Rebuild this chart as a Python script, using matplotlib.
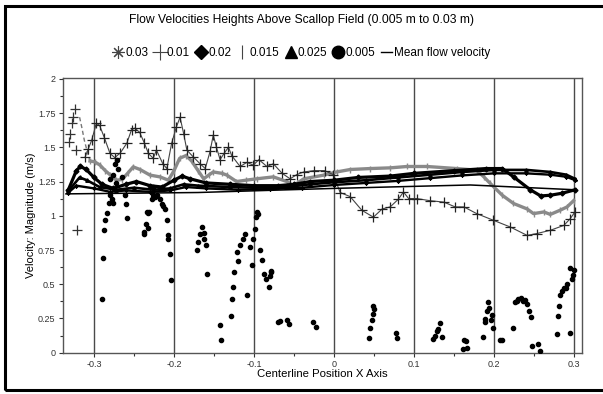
import matplotlib
matplotlib.use("Agg")
import matplotlib.pyplot as plt
from matplotlib.lines import Line2D
from matplotlib.patches import Rectangle
from matplotlib.ticker import MultipleLocator, FuncFormatter

plt.rcParams['font.family'] = ['Liberation Sans', 'DejaVu Sans']
plt.rcParams['axes.unicode_minus'] = False

title = "Flow Velocities Heights Above Scallop Field (0.005 m to 0.03 m)"
xlabel = "Centerline Position X Axis"
ylabel = "Velocity: Magnitude (m/s)"

# 0.01 m height ('+' markers)
x_01 = [-0.311, -0.307, -0.303, -0.297, -0.293, -0.287, -0.28, -0.274, -0.267, -0.259, -0.253, -0.249,
        -0.243, -0.237, -0.232, -0.226, -0.222, -0.214, -0.209, -0.203, -0.197, -0.1925, -0.188, -0.184,
        -0.176, -0.1675, -0.161, -0.155, -0.151, -0.147, -0.1425, -0.137, -0.132, -0.128, -0.1175, -0.109,
        -0.101, -0.094, -0.084, -0.076, -0.065, -0.055, -0.047, -0.038, -0.025, -0.012, -0.001, 0.0075,
        0.02, 0.0346, 0.049, 0.06, 0.07, 0.08, 0.0866, 0.093, 0.103, 0.12, 0.137, 0.151, 0.162, 0.178,
        0.199, 0.22, 0.241, 0.253, 0.27, 0.287, 0.295, 0.301]
y_01 = [1.43, 1.49, 1.55, 1.675, 1.66, 1.57, 1.455, 1.425, 1.46, 1.53, 1.63, 1.64,
        1.61, 1.53, 1.455, 1.42, 1.48, 1.38, 1.345, 1.53, 1.65, 1.72, 1.60, 1.48,
        1.43, 1.38, 1.345, 1.47, 1.59, 1.50, 1.41, 1.46, 1.50, 1.44, 1.36, 1.39,
        1.37, 1.41, 1.36, 1.38, 1.31, 1.27, 1.30, 1.32, 1.33, 1.33, 1.30, 1.17,
        1.14, 1.04, 0.99, 1.05, 1.065, 1.12, 1.174, 1.126, 1.126, 1.11, 1.10, 1.065, 1.065, 1.016,
        0.967, 0.918, 0.857, 0.87, 0.894, 0.93, 0.98, 1.03]
x_01_sparse = [-0.331, -0.33, -0.328, -0.326, -0.324, -0.3225, -0.321]
y_01_sparse = [1.54, 1.60, 1.68, 1.72, 1.78, 1.48, 0.894]

# 0.015 m height ('|' markers, gray)
x_015_dash = [-0.318, -0.315, -0.312, -0.308, -0.305]
y_015_dash = [1.72, 1.64, 1.55, 1.46, 1.40]
x_015 = [-0.305, -0.299, -0.2925, -0.286, -0.28, -0.272, -0.265, -0.258, -0.251, -0.2425, -0.23,
         -0.2175, -0.207, -0.2, -0.193, -0.185, -0.178, -0.17, -0.163, -0.156, -0.151, -0.14, -0.134,
         -0.122, -0.11, -0.097, -0.076, -0.059, -0.051, -0.038, -0.013, 0.003, 0.02, 0.045, 0.07, 0.091,
         0.116, 0.153, 0.178, 0.187, 0.195, 0.21, 0.224, 0.241, 0.249, 0.262, 0.27, 0.282, 0.291, 0.299]
y_015 = [1.40, 1.394, 1.37, 1.33, 1.30, 1.26, 1.265, 1.31, 1.357, 1.338, 1.297,
         1.284, 1.26, 1.33, 1.42, 1.44, 1.40, 1.33, 1.27, 1.30, 1.32, 1.31, 1.297,
         1.25, 1.26, 1.27, 1.284, 1.25, 1.22, 1.27, 1.297, 1.32, 1.338, 1.345, 1.35, 1.36,
         1.36, 1.345, 1.333, 1.284, 1.236, 1.15, 1.09, 1.05, 1.016, 1.028, 1.01, 1.04, 1.065, 1.11]

# 0.02 m height (diamond)
x_02 = [-0.332, -0.322, -0.317, -0.31, -0.3, -0.29, -0.276, -0.26, -0.247, -0.23, -0.215, -0.2, -0.19,
        -0.18, -0.16, -0.13, -0.1, -0.07, -0.05, -0.03, 0.0, 0.03, 0.07, 0.1, 0.15, 0.19, 0.21, 0.225,
        0.245, 0.258, 0.27, 0.285, 0.301]
y_02 = [1.19, 1.33, 1.36, 1.34, 1.28, 1.23, 1.20, 1.23, 1.25, 1.22, 1.21, 1.26, 1.29,
        1.27, 1.24, 1.23, 1.22, 1.22, 1.23, 1.25, 1.26, 1.28, 1.29, 1.31, 1.33, 1.345, 1.345, 1.28,
        1.19, 1.145, 1.15, 1.165, 1.19]

# 0.025 m height (triangle)
x_025 = [-0.332, -0.318, -0.309, -0.293, -0.272, -0.25, -0.226, -0.205, -0.188, -0.17, -0.13, -0.1,
         -0.06, -0.03, 0.0, 0.04, 0.08, 0.12, 0.16, 0.2, 0.24, 0.27, 0.29, 0.301]
y_025 = [1.18, 1.28, 1.26, 1.21, 1.19, 1.205, 1.19, 1.20, 1.23, 1.22, 1.21, 1.205,
         1.21, 1.23, 1.245, 1.26, 1.28, 1.30, 1.32, 1.335, 1.335, 1.32, 1.30, 1.27]

# 0.03 m height (asterisk)
x_03 = [-0.332, -0.322, -0.3, -0.28, -0.26, -0.23, -0.205, -0.185, -0.16, -0.12, -0.08, -0.04, 0.0,
        0.04, 0.08, 0.12, 0.16, 0.2, 0.24, 0.27, 0.29, 0.301]
y_03 = [1.17, 1.22, 1.20, 1.175, 1.185, 1.175, 1.185, 1.21, 1.20, 1.19, 1.195, 1.205, 1.225,
        1.24, 1.255, 1.275, 1.295, 1.31, 1.31, 1.30, 1.285, 1.26]

# Mean flow velocity
x_mean = [-0.335, -0.17, 0.0, 0.1, 0.17, 0.301]
y_mean = [1.16, 1.17, 1.20, 1.215, 1.225, 1.19]

# 0.005 m height (dots)
pts_005 = [(-0.2716, 1.406), (-0.274, 1.38), (-0.27, 1.345), (-0.276, 1.297), (-0.265, 1.284), (-0.28, 1.27),
           (-0.272, 1.236), (-0.28, 1.15), (-0.278, 1.126), (-0.281, 1.094), (-0.276, 1.094), (-0.284, 1.02),
           (-0.286, 0.967), (-0.2875, 0.894), (-0.289, 0.694), (-0.2896, 0.393), (-0.261, 1.15), (-0.26, 1.084),
           (-0.259, 0.987), (-0.238, 0.881), (-0.237, 0.87), (-0.235, 0.943), (-0.233, 0.913), (-0.232, 1.02),
           (-0.231, 1.03), (-0.234, 1.03), (-0.226, 1.21), (-0.224, 1.14), (-0.228, 1.126), (-0.226, 1.15),
           (-0.2216, 1.15), (-0.2175, 1.12), (-0.2155, 1.084), (-0.214, 1.07), (-0.211, 1.05), (-0.209, 0.967),
           (-0.208, 0.857), (-0.2075, 0.83), (-0.205, 0.718), (-0.204, 0.532),
           (-0.1716, 0.747), (-0.1696, 0.808), (-0.1675, 0.87), (-0.165, 0.918), (-0.163, 0.874),
           (-0.1625, 0.833), (-0.16, 0.79), (-0.159, 0.576),
           (-0.1425, 0.205), (-0.141, 0.093), (-0.129, 0.269), (-0.127, 0.393), (-0.1266, 0.478),
           (-0.125, 0.593), (-0.1216, 0.735), (-0.1196, 0.669), (-0.1175, 0.784), (-0.114, 0.833),
           (-0.111, 0.87), (-0.109, 0.418), (-0.105, 0.77), (-0.103, 0.637), (-0.101, 0.833), (-0.099, 0.906),
           (-0.098, 0.99), (-0.097, 1.028), (-0.095, 1.01), (-0.0925, 0.747), (-0.0904, 0.674),
           (-0.0875, 0.576), (-0.085, 0.54), (-0.082, 0.478), (-0.079, 0.6), (-0.08, 0.56), (-0.0785, 0.588),
           (-0.0696, 0.222), (-0.0675, 0.234), (-0.059, 0.242), (-0.057, 0.21),
           (-0.026, 0.222), (-0.0225, 0.19), (0.043, 0.107), (0.045, 0.18), (0.047, 0.24), (0.048, 0.283),
           (0.05, 0.32), (0.049, 0.344), (0.0775, 0.142), (0.079, 0.107),
           (0.124, 0.1), (0.126, 0.125), (0.128, 0.156), (0.13, 0.17), (0.1325, 0.215), (0.135, 0.112),
           (0.162, 0.095), (0.165, 0.088), (0.161, 0.027), (0.166, 0.034),
           (0.186, 0.117), (0.188, 0.222), (0.189, 0.247), (0.191, 0.308), (0.192, 0.369), (0.194, 0.327),
           (0.1954, 0.24), (0.1975, 0.278), (0.199, 0.18), (0.2075, 0.093), (0.21, 0.093),
           (0.224, 0.18), (0.226, 0.369), (0.228, 0.38), (0.23, 0.39), (0.2334, 0.4), (0.236, 0.38),
           (0.238, 0.385), (0.241, 0.357), (0.243, 0.308), (0.246, 0.264), (0.247, 0.046), (0.255, 0.063),
           (0.257, 0.01), (0.278, 0.137), (0.2796, 0.271), (0.281, 0.34), (0.2825, 0.418), (0.285, 0.454),
           (0.2866, 0.47), (0.289, 0.47), (0.291, 0.503), (0.294, 0.62), (0.294, 0.142), (0.297, 0.54),
           (0.298, 0.57), (0.3, 0.606)]
x_005 = [p[0] for p in pts_005]
y_005 = [p[1] for p in pts_005]

xticks = [-0.3, -0.2, -0.1, 0.0, 0.1, 0.2, 0.3]
yticks = [0, 0.25, 0.5, 0.75, 1, 1.25, 1.5, 1.75, 2]

fig = plt.figure(figsize=(6.03, 3.94), dpi=100)
ax = fig.add_axes([63 / 603, 1 - 352.7 / 394, (581.7 - 63) / 603, (352.7 - 77.5) / 394])

ax.set_xlim(-0.3387, 0.3092)
ax.set_ylim(0, 2.01)

# mean flow
ax.plot(x_mean, y_mean, color='black', lw=1.1, zorder=5)
# black series
ax.plot(x_03, y_03, color='black', lw=1.7, marker=(8, 2, 0), ms=3, mew=0.6, zorder=4)
ax.plot(x_025, y_025, color='black', lw=1.9, marker='^', ms=2.5, zorder=4)
ax.plot(x_02, y_02, color='black', lw=2.3, marker='D', ms=2.5, zorder=4)
# gray series
ax.plot(x_015_dash, y_015_dash, color='#777777', lw=1.0, ls=(0, (3, 2)), zorder=3)
ax.plot(x_015, y_015, color='#8a8a8a', lw=2.4, marker='|', ms=5, mew=1.0, zorder=3)
# plus series
ax.plot(x_01, y_01, color='#444444', lw=0.8, marker='+', ms=6.5, mew=0.9, mec='#222222', zorder=3)
ax.plot(x_01_sparse, y_01_sparse, color='#333333', ls='none', marker='+', ms=6.5, mew=0.9, zorder=3)
# dots
ax.plot(x_005, y_005, color='black', ls='none', marker='o', ms=3.0, zorder=6)

ax.set_xticks(xticks)
ax.set_yticks(yticks)
ax.xaxis.set_minor_locator(MultipleLocator(0.05))
ax.yaxis.set_minor_locator(MultipleLocator(0.125))
ax.xaxis.set_major_formatter(FuncFormatter(lambda v, p: ('%g' % round(v, 3)) if abs(v) > 1e-9 else '0'))
ax.yaxis.set_major_formatter(FuncFormatter(lambda v, p: '%g' % v))
ax.tick_params(which='major', length=3, width=0.8, labelsize=6.5, colors='#333333', pad=2.5)
ax.tick_params(which='minor', length=2, width=0.8, colors='#333333')
ax.grid(axis='x', which='major', color='#4a4a4a', lw=1.0)
ax.set_axisbelow(True)
for s in ax.spines.values():
    s.set_color('#555555')
    s.set_linewidth(1.0)

fig.text(0.5, 1 - 20 / 394, title, ha='center', va='center', fontsize=8.7)
fig.text(322 / 603, 1 - 374 / 394, xlabel, ha='center', va='center', fontsize=8.2)
fig.text(31 / 603, 1 - 215 / 394, ylabel, ha='center', va='center', rotation=90, fontsize=8.0)

handles = [
    Line2D([], [], ls='none', marker=(8, 2, 0), ms=9, mew=0.8, color='#444444'),
    Line2D([], [], ls='none', marker='+', ms=11, mew=0.8, color='#444444'),
    Line2D([], [], ls='none', marker='D', ms=7, color='black'),
    Line2D([], [], ls='none', marker='|', ms=10, mew=0.8, color='#444444'),
    Line2D([], [], ls='none', marker='^', ms=8, color='black'),
    Line2D([], [], ls='none', marker='o', ms=9, color='black'),
    Line2D([], [], ls='-', lw=1.0, color='black'),
]
labels = ['0.03', '0.01', '0.02', '0.015', '0.025', '0.005', 'Mean flow velocity']
fig.legend(handles, labels, loc='center', bbox_to_anchor=(0.5, 1 - 53 / 394), ncol=7, frameon=False,
           fontsize=8.5, handlelength=0.9, handletextpad=0.15, columnspacing=0.5, borderaxespad=0)

fig.patches.append(Rectangle((5 / 603, 4 / 394), 1.2, (389 - 5) / 394, transform=fig.transFigure,
                             fill=False, lw=2.2, edgecolor='black', figure=fig))

fig.savefig('out.png', dpi=100)
